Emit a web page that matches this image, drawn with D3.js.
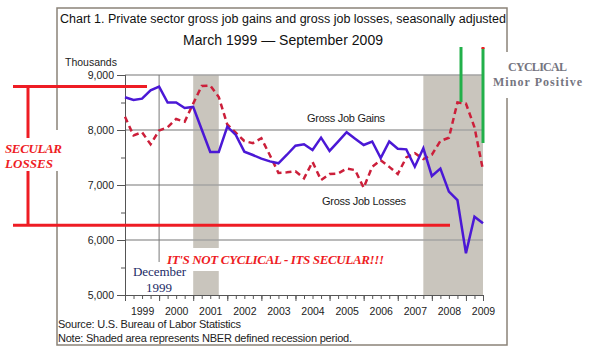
<!DOCTYPE html>
<html>
<head>
<meta charset="utf-8">
<script src="https://cdn.jsdelivr.net/npm/d3@7"></script>
<style>
body { margin: 0; background: #fff; }
svg { display: block; font-family: "Liberation Sans", Arial, sans-serif; }
</style>
</head>
<body>
<script>
// quarterly values, March 1999 .. September 2009 (thousands)
var years = [1999, 2000, 2001, 2002, 2003, 2004, 2005, 2006, 2007, 2008, 2009];
var gains = [8595, 8545, 8570, 8720, 8790, 8500, 8500, 8400, 8420, 8010, 7600, 7600,
             8060, 7910, 7606, 7545, 7480, 7430, 7395, 7550, 7715, 7740, 7636, 7861,
             7620, 7790, 7960, 7840, 7727, 7790, 7490, 7790, 7660, 7648, 7333, 7667,
             7164, 7297, 6879, 6727, 5758, 6424, 6303];
var losses = [8240, 7900, 7960, 7740, 7990, 8050, 8200, 8150, 8480, 8800, 8810, 8600,
              8100, 7950, 7800, 7760, 7850, 7540, 7220, 7230, 7250, 7120, 7420, 7090,
              7200, 7210, 7300, 7270, 6950, 7330, 7450, 7330, 7200, 7500, 7580, 7470,
              7550, 7800, 7860, 8500, 8480, 8050, 7270];
var recessions = [[2001, 2001.75], [2007.75, 2009.5]];
var yTicks = [5000, 6000, 7000, 8000, 9000];

var width = 589;
var height = 353;

var x = d3.scaleLinear().domain([1999, 2009.5]).range([125, 483]);
var y = d3.scaleLinear().domain([5000, 9000]).range([295, 75]);
function qx(d, i) { return x(1999 + i / 4); }

var svg = d3.select('body')
    .append('svg')
    .attr('width', width)
    .attr('height', height);

// frame
svg.append('rect')
    .attr('x', 57).attr('y', 8)
    .attr('width', 450).attr('height', 337)
    .attr('fill', '#fff')
    .attr('stroke', '#8b8378')
    .attr('stroke-width', 1.5);

// recession shading
svg.selectAll('rect.rec')
    .data(recessions)
    .enter()
    .append('rect')
    .attr('class', 'rec')
    .attr('x', function(d) { return x(d[0]); })
    .attr('width', function(d) { return x(d[1]) - x(d[0]); })
    .attr('y', y(9000))
    .attr('height', y(5000) - y(9000))
    .attr('fill', '#c9c5bd');

// gridlines
svg.selectAll('line.grid')
    .data(yTicks.slice(1))
    .enter()
    .append('line')
    .attr('class', 'grid')
    .attr('x1', x(1999)).attr('x2', x(2009.5))
    .attr('y1', function(d) { return y(d); })
    .attr('y2', function(d) { return y(d); })
    .attr('stroke', '#a3a3a3')
    .attr('stroke-width', 1.5);

// December 1999 marker
svg.append('line')
    .attr('x1', x(2000)).attr('x2', x(2000))
    .attr('y1', y(9000)).attr('y2', 262)
    .attr('stroke', '#7a7a7a')
    .attr('stroke-width', 1);

// y axis
var yMinor = svg.append('g')
    .attr('transform', 'translate(' + x(1999) + ',0)')
    .call(d3.axisLeft(y).tickValues(d3.range(5000, 9001, 500)).tickSize(4).tickFormat(''));
var yMajor = svg.append('g')
    .attr('transform', 'translate(' + x(1999) + ',0)')
    .call(d3.axisLeft(y).tickValues(yTicks).tickSize(8).tickPadding(3).tickFormat(d3.format(',')));

// x axis
var xMinor = svg.append('g')
    .attr('transform', 'translate(0,' + y(5000) + ')')
    .call(d3.axisBottom(x).tickValues(d3.range(1999, 2009.51, 0.25)).tickSize(4).tickFormat(''));
var xMajor = svg.append('g')
    .attr('transform', 'translate(0,' + y(5000) + ')')
    .call(d3.axisBottom(x).tickValues(years).tickSize(6).tickFormat(''));
var xLabels = svg.append('g')
    .attr('transform', 'translate(0,' + y(5000) + ')')
    .call(d3.axisBottom(x).tickValues(years.map(function(d) { return d + 0.5; }))
        .tickSize(0).tickPadding(13).tickFormat(function(d) { return Math.floor(d); }));
xLabels.select('.domain').remove();

[yMinor, yMajor, xMinor, xMajor].forEach(function(g) {
    g.select('.domain').attr('stroke', '#555');
    g.selectAll('.tick line').attr('stroke', '#555');
});
svg.selectAll('.tick text')
    .attr('fill', '#222')
    .style('font-size', '10.5px')
    .style('font-family', '"Liberation Sans", Arial, sans-serif');

// series
var line = d3.line()
    .x(qx)
    .y(function(d) { return y(d); });

svg.append('path')
    .datum(losses)
    .attr('d', line)
    .attr('fill', 'none')
    .attr('stroke', '#cc1f3a')
    .attr('stroke-width', 2.5)
    .attr('stroke-dasharray', '6,4');

svg.append('path')
    .datum(gains)
    .attr('d', line)
    .attr('fill', 'none')
    .attr('stroke', '#4b18d6')
    .attr('stroke-width', 2.5);

// series labels
svg.append('text')
    .attr('x', 307).attr('y', 122)
    .attr('textLength', 78)
    .style('font-size', '11px')
    .attr('fill', '#222')
    .text('Gross Job Gains');
svg.append('text')
    .attr('x', 322).attr('y', 205)
    .attr('textLength', 84)
    .style('font-size', '11px')
    .attr('fill', '#222')
    .text('Gross Job Losses');

// titles
svg.append('text')
    .attr('x', 60).attr('y', 23)
    .attr('textLength', 446)
    .attr('lengthAdjust', 'spacingAndGlyphs')
    .style('font-size', '12px')
    .attr('fill', '#111')
    .text('Chart 1. Private sector gross job gains and gross job losses, seasonally adjusted');
svg.append('text')
    .attr('x', 183).attr('y', 45)
    .attr('textLength', 200)
    .style('font-size', '14px')
    .attr('fill', '#111')
    .text('March 1999 \u2014 September 2009');
svg.append('text')
    .attr('x', 65).attr('y', 66)
    .style('font-size', '10.5px')
    .attr('fill', '#222')
    .text('Thousands');
svg.append('text')
    .attr('x', 58).attr('y', 328)
    .attr('textLength', 183)
    .style('font-size', '11px')
    .attr('fill', '#222')
    .text('Source: U.S. Bureau of Labor Statistics');
svg.append('text')
    .attr('x', 58).attr('y', 342)
    .attr('textLength', 294)
    .style('font-size', '11px')
    .attr('fill', '#222')
    .text('Note: Shaded area represents NBER defined recession period.');

// annotations: white backing boxes
svg.append('rect').attr('x', 0).attr('y', 130).attr('width', 63).attr('height', 41).attr('fill', '#fff');
svg.append('rect').attr('x', 160).attr('y', 248).attr('width', 235).attr('height', 23).attr('fill', '#fff');
svg.append('rect').attr('x', 490).attr('y', 52).attr('width', 99).attr('height', 46).attr('fill', '#fff');

var red = '#ee1c24';
// secular bracket
svg.append('line').attr('x1', 13).attr('x2', 147).attr('y1', y(8790)).attr('y2', y(8790))
    .attr('stroke', red).attr('stroke-width', 3);
svg.append('line').attr('x1', 13).attr('x2', 450).attr('y1', y(6270)).attr('y2', y(6270))
    .attr('stroke', red).attr('stroke-width', 3);
svg.append('line').attr('x1', 28).attr('x2', 28).attr('y1', y(8790)).attr('y2', 138)
    .attr('stroke', red).attr('stroke-width', 3);
svg.append('line').attr('x1', 28).attr('x2', 28).attr('y1', 171).attr('y2', y(6270))
    .attr('stroke', red).attr('stroke-width', 3);

// cyclical markers
var green = '#22b04a';
svg.append('line').attr('x1', 461).attr('x2', 461).attr('y1', 47).attr('y2', y(8510))
    .attr('stroke', green).attr('stroke-width', 3);
svg.append('line').attr('x1', 483).attr('x2', 483).attr('y1', 48).attr('y2', 143)
    .attr('stroke', green).attr('stroke-width', 3);
svg.append('line').attr('x1', 481.5).attr('x2', 484.5).attr('y1', 48).attr('y2', 48)
    .attr('stroke', red).attr('stroke-width', 2);

var serif = '"Liberation Serif", "Times New Roman", serif';
svg.append('text')
    .attr('x', 5).attr('y', 153)
    .attr('textLength', 57)
    .style('font-family', serif).style('font-size', '13px')
    .style('font-weight', 'bold').style('font-style', 'italic')
    .attr('fill', red)
    .text('SECULAR');
svg.append('text')
    .attr('x', 5).attr('y', 168)
    .attr('textLength', 48)
    .style('font-family', serif).style('font-size', '13px')
    .style('font-weight', 'bold').style('font-style', 'italic')
    .attr('fill', red)
    .text('LOSSES');
svg.append('text')
    .attr('x', 167).attr('y', 264)
    .attr('textLength', 217)
    .style('font-family', serif).style('font-size', '13px')
    .style('font-weight', 'bold').style('font-style', 'italic')
    .attr('fill', red)
    .text("IT'S NOT CYCLICAL - ITS SECULAR!!!");

svg.append('text')
    .attr('x', 133).attr('y', 276)
    .attr('textLength', 53)
    .style('font-family', serif).style('font-size', '13px')
    .attr('fill', '#1c2a66')
    .text('December');
svg.append('text')
    .attr('x', x(2000)).attr('y', 292)
    .attr('text-anchor', 'middle')
    .style('font-family', serif).style('font-size', '13px')
    .attr('fill', '#1c2a66')
    .text('1999');

svg.append('text')
    .attr('x', 508).attr('y', 71)
    .attr('textLength', 59)
    .style('font-family', serif).style('font-size', '12px').style('font-weight', 'bold')
    .attr('fill', '#75757f')
    .text('CYCLICAL');
svg.append('text')
    .attr('x', 493).attr('y', 86)
    .attr('textLength', 89)
    .style('font-family', serif).style('font-size', '12px').style('font-weight', 'bold')
    .attr('fill', '#75757f')
    .text('Minor Positive');
</script>
</body>
</html>
